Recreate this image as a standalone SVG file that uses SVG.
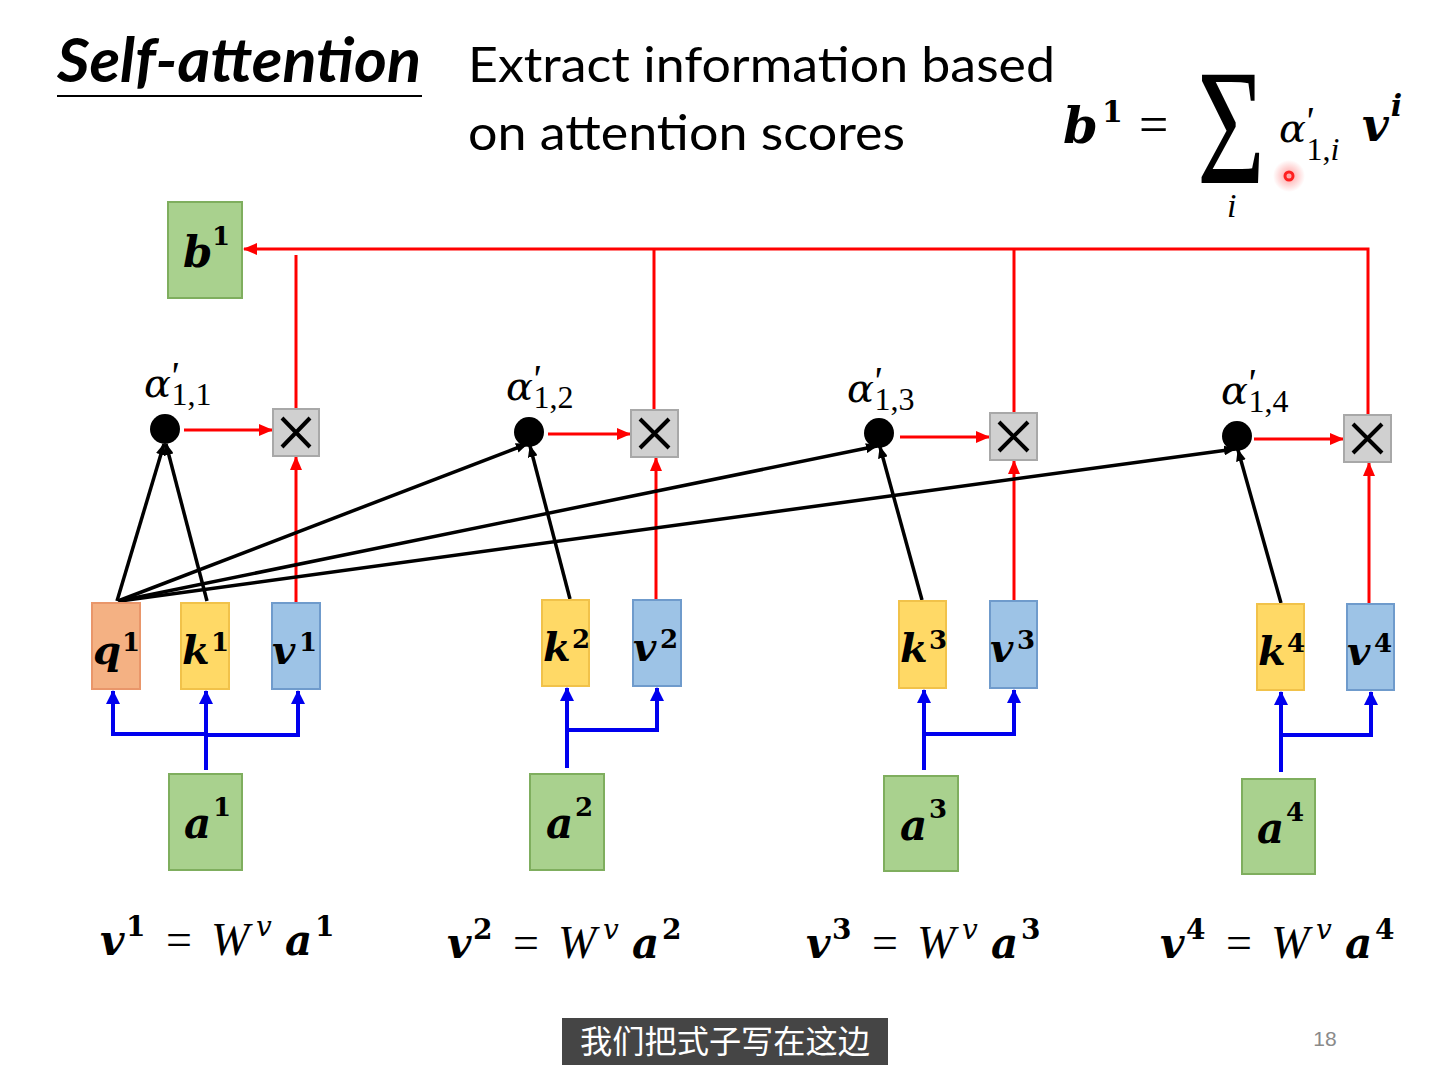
<svg xmlns="http://www.w3.org/2000/svg" width="1451" height="1088" viewBox="0 0 1451 1088">
<defs>
<style>
.ttl{font-family:Lato,"Open Sans",sans-serif;font-weight:bold;font-style:italic;fill:#000}
.txt{font-family:Lato,"Open Sans",sans-serif;fill:#000}
.bi{font-family:"DejaVu Serif",serif;font-weight:bold;font-style:italic;fill:#000}
.it{font-family:"DejaVu Serif",serif;font-style:italic;fill:#000}
.lit{font-family:"Liberation Serif",serif;font-style:italic;fill:#000}
.rm{font-family:"Liberation Serif",serif;font-style:normal;fill:#000}
.pr{font-family:"Liberation Serif",serif;font-style:italic;fill:#000}
.sb{font-family:"DejaVu Serif",serif;font-weight:bold;font-style:normal;fill:#000}
.green{fill:#a9d18e;stroke:#7fae5e;stroke-width:2}
.orange{fill:#f4b183;stroke:#e9966a;stroke-width:2}
.yellow{fill:#ffd966;stroke:#f1c24a;stroke-width:2}
.blue{fill:#9dc3e6;stroke:#6f9bcc;stroke-width:2}
.mul{fill:#d0d0d0;stroke:#a8a8a8;stroke-width:2}
.x{stroke:#000;stroke-width:4;stroke-linecap:butt}
.red{stroke:#ff0000;stroke-width:3;fill:none}
.blk{stroke:#000;stroke-width:3.5;fill:none}
.blu{stroke:#0000ee;stroke-width:4;fill:none}
</style>
<marker id="ar" markerUnits="userSpaceOnUse" markerWidth="14" markerHeight="12" refX="13" refY="6" orient="auto"><path d="M0,0 L14,6 L0,12 z" fill="#ff0000"/></marker>
<marker id="ak" markerUnits="userSpaceOnUse" markerWidth="12" markerHeight="10" refX="11" refY="5" orient="auto"><path d="M0,0 L12,5 L0,10 z" fill="#000"/></marker>
<marker id="ab" markerUnits="userSpaceOnUse" markerWidth="14" markerHeight="14" refX="13" refY="7" orient="auto"><path d="M0,0 L14,7 L0,14 z" fill="#0000ee"/></marker>
<radialGradient id="glow"><stop offset="0" stop-color="#ff4040" stop-opacity="0.5"/><stop offset="1" stop-color="#ff4040" stop-opacity="0"/></radialGradient>
</defs>
<rect width="1451" height="1088" fill="#ffffff"/>

<g id="title">
<text class="ttl" x="57" y="82" font-size="62" textLength="364" lengthAdjust="spacingAndGlyphs">Self-attention</text>
<line x1="57" y1="96" x2="422" y2="96" stroke="#000" stroke-width="2"/>
<text class="txt" x="468" y="82" font-size="48" textLength="587" lengthAdjust="spacingAndGlyphs">Extract information based</text>
<text class="txt" x="468" y="150" font-size="48" textLength="437" lengthAdjust="spacingAndGlyphs">on attention scores</text>
</g>

<g id="formula">
<text class="bi" x="1063" y="143" font-size="50">b</text>
<text class="sb" x="1102" y="122" font-size="30">1</text>
<text class="rm" x="1139" y="142" font-size="52">=</text>
<text class="rm" font-size="165"><tspan x="1197" y="183" textLength="68" lengthAdjust="spacingAndGlyphs">Σ</tspan><tspan class="lit" x="1227" y="217" font-size="34">i</tspan></text>
<text class="it" x="1279" y="142" font-size="40">α<tspan class="pr" font-size="40" dx="-2" dy="-8">'</tspan><tspan class="rm" font-size="32" dx="-6" dy="26">1,<tspan class="lit">i</tspan></tspan></text>
<text class="bi" x="1362" y="141" font-size="46">v<tspan font-size="30" dx="2" dy="-25">i</tspan></text>
<circle cx="1289" cy="176" r="16" fill="url(#glow)"/>
<circle cx="1289" cy="176" r="4" fill="none" stroke="#ff2020" stroke-width="3"/>
</g>

<g id="connectors">
<polyline class="red" points="1368,415 1368,249 244,249" marker-end="url(#ar)"/>
<line class="red" x1="296" y1="255" x2="296" y2="408"/>
<line class="red" x1="654" y1="249" x2="654" y2="410"/>
<line class="red" x1="1014" y1="249" x2="1014" y2="413"/>
<line class="red" x1="184" y1="430" x2="272" y2="430" marker-end="url(#ar)"/>
<line class="red" x1="548" y1="434" x2="630" y2="434" marker-end="url(#ar)"/>
<line class="red" x1="900" y1="437" x2="989" y2="437" marker-end="url(#ar)"/>
<line class="red" x1="1254" y1="439" x2="1343" y2="439" marker-end="url(#ar)"/>
<line class="red" x1="296" y1="602" x2="296" y2="457" marker-end="url(#ar)"/>
<line class="red" x1="656" y1="599" x2="656" y2="458" marker-end="url(#ar)"/>
<line class="red" x1="1014" y1="600" x2="1014" y2="461" marker-end="url(#ar)"/>
<line class="red" x1="1369" y1="603" x2="1369" y2="463" marker-end="url(#ar)"/>
<line class="blk" x1="117" y1="601" x2="164" y2="444" marker-end="url(#ak)"/>
<line class="blk" x1="207" y1="601" x2="166" y2="444" marker-end="url(#ak)"/>
<line class="blk" x1="118" y1="601" x2="527" y2="444" marker-end="url(#ak)"/>
<line class="blk" x1="570" y1="599" x2="530" y2="446" marker-end="url(#ak)"/>
<line class="blk" x1="119" y1="601" x2="877" y2="446" marker-end="url(#ak)"/>
<line class="blk" x1="922" y1="600" x2="880" y2="447" marker-end="url(#ak)"/>
<line class="blk" x1="120" y1="601" x2="1235" y2="449" marker-end="url(#ak)"/>
<line class="blk" x1="1281" y1="603" x2="1238" y2="450" marker-end="url(#ak)"/>
<line class="blu" x1="206" y1="770" x2="206" y2="691" marker-end="url(#ab)"/>
<polyline class="blu" points="206,734 113,734 113,691" marker-end="url(#ab)"/>
<polyline class="blu" points="206,735 298,735 298,691" marker-end="url(#ab)"/>
<line class="blu" x1="567" y1="768" x2="567" y2="688" marker-end="url(#ab)"/>
<polyline class="blu" points="567,730 657,730 657,688" marker-end="url(#ab)"/>
<line class="blu" x1="924" y1="770" x2="924" y2="690" marker-end="url(#ab)"/>
<polyline class="blu" points="924,734 1014,734 1014,690" marker-end="url(#ab)"/>
<line class="blu" x1="1281" y1="772" x2="1281" y2="692" marker-end="url(#ab)"/>
<polyline class="blu" points="1281,735 1371,735 1371,692" marker-end="url(#ab)"/>
</g>

<g id="b1"><rect class="green" x="168" y="202" width="74" height="96"/><text class="bi" x="183" y="267" font-size="42">b</text><text class="sb" x="212" y="245" font-size="26">1</text></g>

<g id="alpha11"><circle cx="165" cy="429" r="15" fill="#000"/><text class="it" x="144" y="397" font-size="40">α<tspan class="pr" font-size="40" dx="-2" dy="-8">'</tspan><tspan class="rm" font-size="32" dx="-6" dy="16">1,1</tspan></text></g>
<g id="alpha12"><circle cx="529" cy="432" r="15" fill="#000"/><text class="it" x="506" y="400" font-size="40">α<tspan class="pr" font-size="40" dx="-2" dy="-8">'</tspan><tspan class="rm" font-size="32" dx="-6" dy="16">1,2</tspan></text></g>
<g id="alpha13"><circle cx="879" cy="433" r="15" fill="#000"/><text class="it" x="847" y="402" font-size="40">α<tspan class="pr" font-size="40" dx="-2" dy="-8">'</tspan><tspan class="rm" font-size="32" dx="-6" dy="16">1,3</tspan></text></g>
<g id="alpha14"><circle cx="1237" cy="436" r="15" fill="#000"/><text class="it" x="1221" y="404" font-size="40">α<tspan class="pr" font-size="40" dx="-2" dy="-8">'</tspan><tspan class="rm" font-size="32" dx="-6" dy="16">1,4</tspan></text></g>

<g id="mul1"><rect class="mul" x="273" y="409" width="46" height="47"/><path class="x" d="M282,418 L310,447 M310,418 L282,447"/></g>
<g id="mul2"><rect class="mul" x="631" y="410" width="47" height="47"/><path class="x" d="M640,419 L669,448 M669,419 L640,448"/></g>
<g id="mul3"><rect class="mul" x="990" y="413" width="47" height="47"/><path class="x" d="M999,422 L1028,451 M1028,422 L999,451"/></g>
<g id="mul4"><rect class="mul" x="1344" y="415" width="47" height="47"/><path class="x" d="M1353,424 L1382,453 M1382,424 L1353,453"/></g>

<g id="q1"><rect class="orange" x="92" y="603" width="48" height="86"/><text class="bi" x="93" y="664" font-size="40">q</text><text class="sb" x="122" y="651" font-size="26">1</text></g>
<g id="k1"><rect class="yellow" x="181" y="603" width="48" height="86"/><text class="bi" x="182" y="664" font-size="40">k</text><text class="sb" x="211" y="651" font-size="26">1</text></g>
<g id="v1"><rect class="blue" x="272" y="603" width="48" height="86"/><text class="bi" x="272" y="664" font-size="40">v</text><text class="sb" x="299" y="651" font-size="26">1</text></g>
<g id="k2"><rect class="yellow" x="542" y="600" width="47" height="86"/><text class="bi" x="543" y="661" font-size="40">k</text><text class="sb" x="572" y="648" font-size="26">2</text></g>
<g id="v2"><rect class="blue" x="633" y="600" width="48" height="86"/><text class="bi" x="633" y="661" font-size="40">v</text><text class="sb" x="660" y="648" font-size="26">2</text></g>
<g id="k3"><rect class="yellow" x="899" y="601" width="47" height="87"/><text class="bi" x="900" y="662" font-size="40">k</text><text class="sb" x="929" y="649" font-size="26">3</text></g>
<g id="v3"><rect class="blue" x="990" y="601" width="47" height="87"/><text class="bi" x="990" y="662" font-size="40">v</text><text class="sb" x="1017" y="649" font-size="26">3</text></g>
<g id="k4"><rect class="yellow" x="1257" y="604" width="47" height="86"/><text class="bi" x="1258" y="665" font-size="40">k</text><text class="sb" x="1287" y="652" font-size="26">4</text></g>
<g id="v4"><rect class="blue" x="1347" y="604" width="47" height="86"/><text class="bi" x="1347" y="665" font-size="40">v</text><text class="sb" x="1374" y="652" font-size="26">4</text></g>

<g id="a1"><rect class="green" x="169" y="774" width="73" height="96"/><text class="bi" x="184" y="838" font-size="42">a</text><text class="sb" x="213" y="816" font-size="26">1</text></g>
<g id="a2"><rect class="green" x="530" y="774" width="74" height="96"/><text class="bi" x="546" y="838" font-size="42">a</text><text class="sb" x="575" y="816" font-size="26">2</text></g>
<g id="a3"><rect class="green" x="884" y="776" width="74" height="95"/><text class="bi" x="900" y="840" font-size="42">a</text><text class="sb" x="929" y="818" font-size="26">3</text></g>
<g id="a4"><rect class="green" x="1242" y="779" width="73" height="95"/><text class="bi" x="1257" y="843" font-size="42">a</text><text class="sb" x="1286" y="821" font-size="26">4</text></g>

<g id="eq1"><text class="bi" x="100" y="955" font-size="42">v</text><text class="sb" x="126" y="936" font-size="28">1</text><text class="rm" x="166" y="955" font-size="46">=</text><text class="lit" x="211" y="955" font-size="46">W</text><text class="it" x="256" y="936" font-size="28">v</text><text class="bi" x="285" y="955" font-size="42">a</text><text class="sb" x="315" y="936" font-size="28">1</text></g>
<g id="eq2"><text class="bi" x="447" y="958" font-size="42">v</text><text class="sb" x="473" y="939" font-size="28">2</text><text class="rm" x="513" y="958" font-size="46">=</text><text class="lit" x="558" y="958" font-size="46">W</text><text class="it" x="603" y="939" font-size="28">v</text><text class="bi" x="632" y="958" font-size="42">a</text><text class="sb" x="662" y="939" font-size="28">2</text></g>
<g id="eq3"><text class="bi" x="806" y="958" font-size="42">v</text><text class="sb" x="832" y="939" font-size="28">3</text><text class="rm" x="872" y="958" font-size="46">=</text><text class="lit" x="917" y="958" font-size="46">W</text><text class="it" x="962" y="939" font-size="28">v</text><text class="bi" x="991" y="958" font-size="42">a</text><text class="sb" x="1021" y="939" font-size="28">3</text></g>
<g id="eq4"><text class="bi" x="1160" y="958" font-size="42">v</text><text class="sb" x="1186" y="939" font-size="28">4</text><text class="rm" x="1226" y="958" font-size="46">=</text><text class="lit" x="1271" y="958" font-size="46">W</text><text class="it" x="1316" y="939" font-size="28">v</text><text class="bi" x="1345" y="958" font-size="42">a</text><text class="sb" x="1375" y="939" font-size="28">4</text></g>

<g id="caption">
<rect x="562" y="1018" width="326" height="47" fill="#454545"/>
<text x="725" y="1053" font-size="32" fill="#ffffff" text-anchor="middle" font-family="'Noto Sans CJK SC',sans-serif" textLength="290" lengthAdjust="spacingAndGlyphs">我们把式子写在这边</text>
<text x="1325" y="1046" font-size="21" fill="#8a8a8a" text-anchor="middle" font-family="'Liberation Sans Narrow','Liberation Sans',sans-serif">18</text>
</g>
</svg>
